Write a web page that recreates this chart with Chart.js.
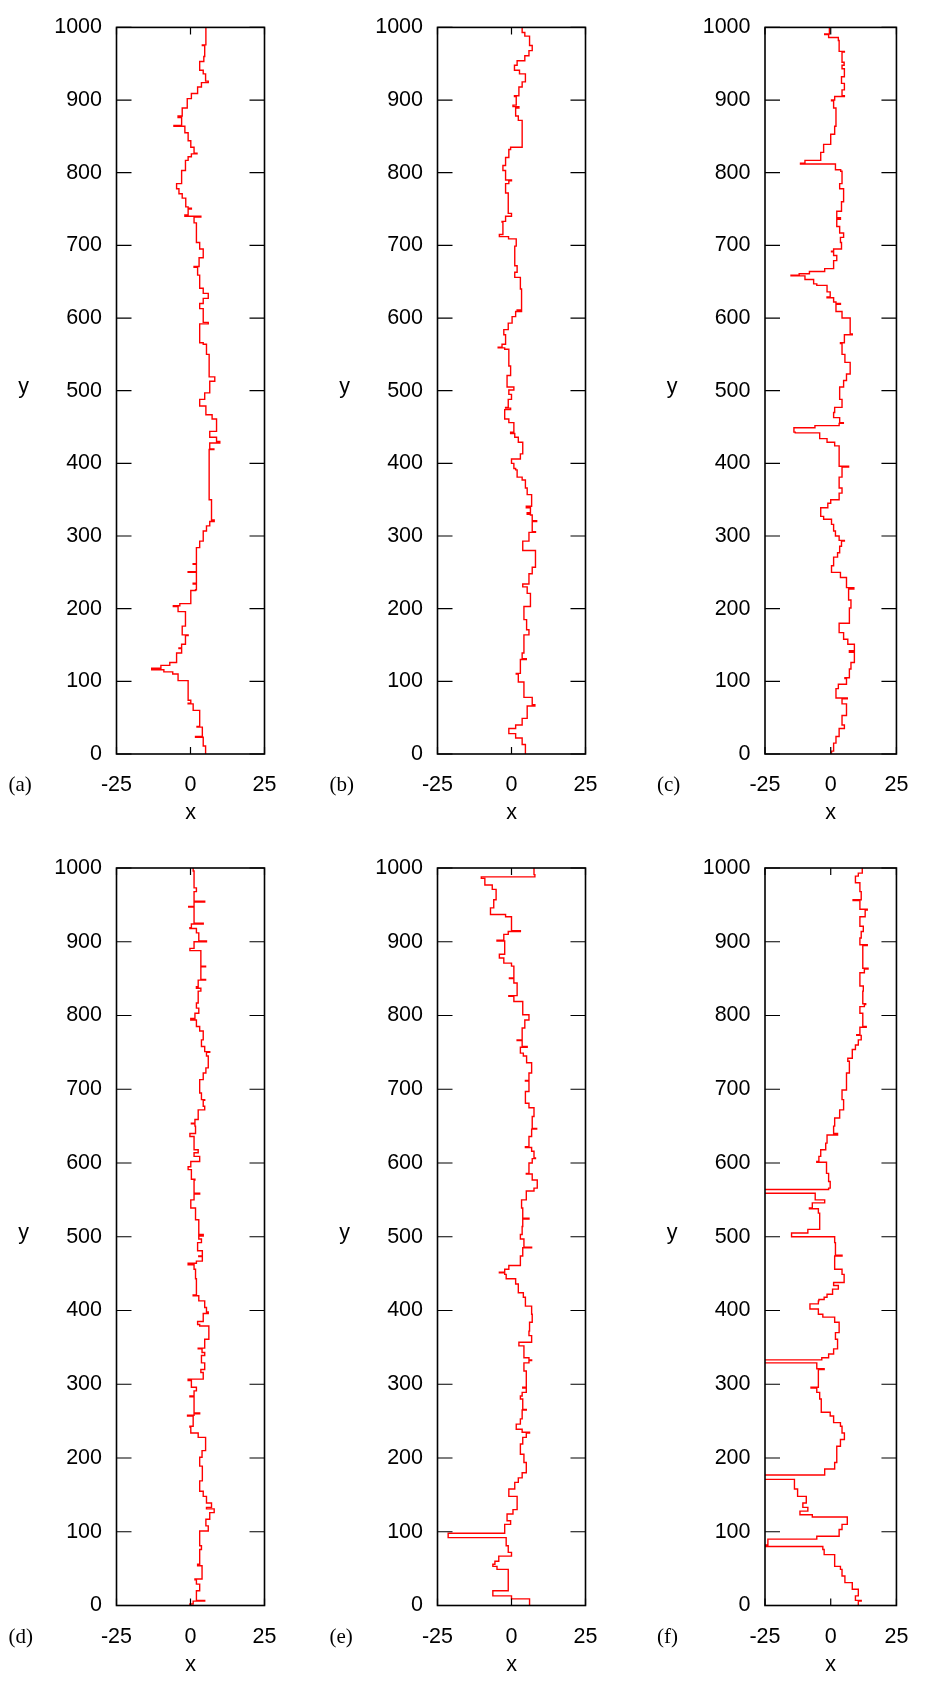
<!DOCTYPE html>
<html><head><meta charset="utf-8">
<script src="https://cdn.jsdelivr.net/npm/chart.js@4.4.0/dist/chart.umd.min.js"></script>
<style>
html,body{margin:0;padding:0;background:#fff;}
#wrap{position:relative;width:927px;height:1681px;overflow:hidden;background:#fff;}
canvas{position:absolute;}
</style></head><body><div id="wrap"></div>
<script>
// ---- data: [y, x] change points of each walk (x holds from this y down to the next y) ----
const panelA = [[1000,5.2],[976,4.0],[975,4.8],[960,4.5],[953,3.1],[941,4.3],[936,5.1],[926,6.0],[924,3.7],[918,2.4],[909,0.3],[902,-1.1],[889,-2.8],[878,-4.2],[876,-3.0],[865,-5.6],[864,-1.9],[855,-0.8],[844,0.1],[835,1.2],[827,2.2],[826,0.3],[822,-0.8],[817,-1.7],[803,-3.0],[785,-4.7],[778,-3.9],[771,-2.8],[765,-1.6],[753,-0.8],[751,0.3],[750,-0.8],[742,-1.9],[740,3.5],[739,1.2],[731,2.0],[704,3.1],[695,4.3],[683,2.9],[671,1.2],[670,2.4],[659,3.1],[641,4.3],[634,6.0],[627,4.3],[620,3.1],[613,4.3],[594,6.0],[592,3.1],[566,4.3],[564,5.4],[550,6.3],[519,8.2],[513,6.5],[497,4.8],[488,3.1],[479,5.2],[467,7.3],[461,8.8],[444,6.5],[436,8.8],[430,9.9],[428,6.5],[420,7.9],[419,6.3],[350,7.1],[322,8.0],[320,6.5],[314,5.4],[307,4.3],[293,3.1],[284,2.0],[262,0.9],[261,2.0],[251,-0.8],[250,2.0],[235,0.9],[234,2.0],[226,1.7],[225,0.1],[207,-3.6],[204,-5.8],[203,-4.2],[196,-1.7],[176,-2.8],[164,-0.8],[163,-1.7],[151,-3.0],[146,-3.9],[145,-3.0],[139,-4.7],[126,-7.0],[122,-10.0],[118,-13.1],[116,-9.0],[113,-6.0],[110,-4.2],[101,-0.8],[74,0.1],[70,-0.8],[69,0.9],[60,3.1],[38,2.2],[37,4.0],[24,1.7],[23,4.3],[11,5.1],[0,5.1]];
const panelB = [[1000,3.6],[993,4.5],[988,6.1],[975,7.0],[968,5.9],[961,4.5],[954,1.9],[948,1.0],[941,2.7],[936,4.7],[925,3.6],[918,2.5],[906,1.0],[905,1.6],[893,0.5],[891,2.5],[889,1.4],[878,2.3],[872,3.6],[835,-0.3],[832,-0.9],[821,-2.0],[810,-2.9],[803,-2.0],[790,0.0],[789,-0.9],[785,-2.0],[772,-1.1],[744,0.0],[740,-2.0],[733,-3.2],[732,-2.9],[715,-4.1],[712,-1.0],[709,1.6],[699,1.1],[672,1.9],[663,1.1],[656,3.0],[640,3.4],[611,1.9],[610,3.4],[609,1.4],[602,0.2],[593,-1.1],[584,-2.6],[577,-2.0],[564,-3.2],[560,-4.5],[559,-2.3],[557,-0.9],[534,-0.3],[521,-1.5],[505,0.8],[501,-0.9],[495,0.0],[488,-1.1],[477,-2.0],[476,-0.3],[474,-2.3],[461,-0.9],[456,0.8],[443,-0.3],[441,1.1],[436,2.3],[429,3.8],[413,3.0],[406,0.0],[400,0.8],[393,1.4],[391,1.9],[381,3.6],[377,4.7],[366,5.3],[357,6.8],[341,5.0],[339,6.4],[332,5.3],[330,6.4],[329,7.0],[321,8.5],[320,7.0],[306,8.1],[305,5.9],[293,3.8],[280,8.1],[257,7.0],[248,5.9],[234,3.8],[230,5.3],[221,6.4],[203,4.2],[185,5.1],[171,5.9],[164,4.2],[139,3.6],[131,5.0],[130,3.0],[111,1.6],[110,2.3],[99,4.2],[78,7.0],[68,7.9],[66,5.3],[49,3.6],[40,1.4],[35,-0.9],[28,1.4],[22,3.6],[13,4.7],[0,4.7]];
const panelC = [[1000,-0.5],[991,-2.3],[990,-0.8],[986,2.9],[982,3.2],[967,5.2],[966,4.3],[952,5.1],[948,4.3],[943,5.2],[932,4.1],[923,5.2],[914,4.3],[906,5.2],[905,1.5],[900,0.3],[899,1.1],[889,2.0],[864,1.5],[853,0.0],[839,-2.7],[828,-3.8],[817,-9.8],[813,-11.5],[812,1.8],[804,3.8],[802,4.3],[785,3.4],[778,4.9],[760,4.1],[747,2.3],[738,3.7],[736,2.3],[726,3.4],[717,4.9],[711,3.7],[704,4.1],[695,1.1],[692,0.3],[691,1.1],[686,2.3],[679,1.1],[668,-2.3],[664,-8.1],[661,-12.0],[659,-15.1],[658,-9.8],[653,-6.5],[647,-5.3],[645,-1.4],[636,-0.2],[629,-1.4],[628,1.1],[622,2.0],[620,3.7],[619,2.0],[609,4.3],[600,7.4],[578,8.2],[577,5.2],[566,3.7],[565,4.3],[550,5.4],[539,7.4],[523,6.0],[514,4.9],[505,3.4],[488,4.3],[477,1.5],[470,1.1],[463,3.4],[456,4.8],[455,3.2],[452,-6.0],[449,-14.0],[443,-13.5],[442,-4.2],[434,-1.4],[429,1.5],[424,3.2],[396,6.8],[395,4.3],[381,3.2],[366,4.3],[359,3.2],[350,0.0],[345,-1.1],[339,-3.8],[327,-2.7],[323,0.3],[316,1.1],[307,1.8],[300,3.2],[294,5.2],[293,4.1],[286,3.4],[277,2.6],[271,1.1],[259,0.3],[250,3.7],[243,6.0],[229,8.8],[227,6.8],[212,7.7],[201,7.1],[180,3.2],[167,4.9],[158,6.5],[151,9.0],[142,7.1],[140,9.0],[126,7.7],[117,7.1],[105,5.4],[104,6.0],[96,2.9],[90,2.0],[77,6.3],[76,4.3],[69,6.0],[53,4.3],[40,5.2],[35,3.2],[24,2.0],[15,1.1],[4,0.3],[0,0.3]];
const panelD = [[1000,0.9],[996,1.2],[973,2.0],[968,1.2],[955,4.8],[954,1.2],[948,-0.6],[947,1.2],[925,4.3],[924,0.3],[919,-0.2],[918,2.0],[912,2.8],[901,5.4],[900,1.2],[891,-0.2],[888,3.5],[867,5.1],[866,3.5],[849,5.1],[848,2.6],[839,2.0],[837,3.5],[833,2.6],[817,2.0],[810,2.8],[803,1.5],[796,0.1],[794,2.0],[785,3.1],[779,4.3],[767,3.7],[758,4.8],[751,6.5],[750,5.4],[745,6.0],[729,5.2],[722,4.3],[713,3.1],[695,3.7],[686,4.8],[685,4.3],[677,4.8],[672,2.6],[659,1.5],[654,0.3],[653,1.5],[650,1.7],[640,-0.2],[636,1.2],[618,2.6],[614,1.2],[609,3.1],[602,0.1],[595,-0.8],[591,0.3],[578,1.5],[577,1.2],[559,3.1],[558,1.2],[550,0.1],[539,1.7],[523,2.8],[503,4.3],[501,2.8],[497,3.7],[492,2.4],[481,4.0],[474,2.8],[473,4.0],[467,2.0],[464,-0.8],[462,1.2],[456,1.7],[443,2.0],[421,0.9],[420,2.8],[413,4.8],[404,5.4],[398,6.0],[396,4.3],[385,2.4],[381,3.1],[379,6.2],[361,4.8],[349,2.6],[348,3.9],[343,4.8],[339,3.7],[329,4.8],[320,3.5],[316,4.3],[307,-0.8],[305,0.3],[296,2.0],[291,1.2],[284,-0.2],[283,1.2],[261,3.1],[260,1.2],[258,-1.0],[257,0.9],[243,-0.2],[242,0.1],[234,2.6],[228,5.1],[210,3.9],[201,3.1],[189,4.0],[169,3.1],[155,4.3],[148,5.4],[139,7.1],[133,5.4],[131,8.0],[126,6.5],[117,5.2],[108,6.0],[101,3.1],[81,3.7],[76,3.1],[56,2.4],[54,3.9],[36,1.5],[35,2.0],[29,3.1],[20,2.0],[7,4.8],[6,0.9],[2,-0.2],[0,-0.2]];
const panelE = [[1000,7.6],[991,7.9],[988,-10.2],[986,-9.0],[977,-6.5],[971,-5.2],[957,-6.0],[946,-7.1],[937,-2.0],[934,0.0],[915,3.0],[914,-1.1],[910,-2.6],[902,-4.9],[901,-2.3],[883,-4.1],[878,-2.6],[871,0.0],[867,0.8],[851,-0.7],[850,0.8],[844,1.9],[827,-0.9],[826,0.8],[819,3.8],[801,5.9],[794,4.5],[783,3.6],[767,1.9],[766,3.6],[758,5.3],[757,3.0],[749,4.0],[745,5.1],[736,6.8],[722,5.9],[712,4.7],[711,5.9],[697,4.7],[681,5.9],[675,7.6],[663,7.0],[647,8.5],[646,6.8],[636,5.9],[622,4.7],[621,6.8],[616,7.6],[607,8.1],[606,7.0],[600,5.9],[586,5.0],[585,7.0],[577,8.7],[566,7.6],[562,5.0],[550,3.4],[539,3.8],[525,5.9],[524,3.8],[514,3.6],[503,3.0],[497,4.2],[486,6.8],[485,3.8],[474,3.0],[461,-0.9],[456,-2.3],[452,-4.1],[451,-2.3],[449,-1.8],[443,1.4],[436,2.3],[424,4.0],[418,4.7],[406,6.8],[395,7.0],[384,6.1],[372,5.9],[366,6.8],[357,2.5],[352,4.2],[336,5.9],[333,6.8],[332,5.9],[329,4.2],[318,5.0],[296,3.8],[295,5.0],[289,3.6],[284,3.0],[280,3.8],[266,5.0],[265,3.6],[253,3.0],[246,1.6],[239,3.6],[235,6.1],[234,5.0],[228,3.8],[219,3.0],[205,4.2],[194,5.0],[180,3.6],[173,2.3],[167,1.1],[158,-0.9],[148,1.9],[130,0.5],[124,-1.5],[115,-0.3],[110,-2.3],[98,-21.4],[92,-1.8],[81,-1.1],[72,0.0],[67,-4.3],[60,-5.6],[56,-6.3],[53,-4.9],[49,-1.1],[20,-6.3],[13,0.0],[9,6.1],[0,6.1]];
const panelF = [[1000,12.0],[993,10.5],[989,9.4],[980,11.1],[968,11.6],[957,8.5],[956,11.1],[944,13.9],[943,13.1],[934,11.1],[921,12.4],[914,11.6],[905,11.1],[896,13.9],[895,12.2],[864,14.2],[863,12.8],[858,11.1],[840,12.4],[833,12.2],[816,13.3],[815,12.8],[812,11.1],[803,12.2],[785,13.5],[784,11.1],[774,9.9],[773,11.6],[767,10.5],[760,9.4],[754,8.2],[742,6.5],[738,7.1],[722,6.0],[699,4.3],[686,4.9],[672,3.4],[661,1.5],[650,1.1],[640,2.6],[638,-1.4],[627,-1.9],[618,-3.8],[609,-4.5],[602,-5.3],[601,-1.6],[586,-0.8],[575,-0.2],[566,-0.8],[564,-27],[559,-5.9],[550,-2.3],[546,-7.0],[539,-8.1],[538,-4.7],[532,-4.2],[510,-8.7],[505,-14.9],[500,1.5],[492,1.8],[475,4.3],[474,1.5],[456,4.3],[449,5.1],[438,1.1],[434,2.9],[429,0.7],[422,-1.4],[418,-2.5],[415,-4.5],[413,-4.7],[409,-7.9],[402,-4.7],[395,-3.0],[391,1.5],[384,3.2],[370,1.8],[361,2.6],[348,1.1],[341,-0.8],[336,-3.4],[333,-27],[329,-5.3],[321,-2.5],[320,-4.7],[296,-7.5],[295,-5.3],[289,-4.2],[280,-3.6],[262,-0.2],[257,1.1],[248,3.7],[243,4.3],[234,5.2],[225,3.7],[216,2.3],[194,1.5],[185,-2.3],[177,-27],[171,-13.8],[158,-12.6],[148,-9.3],[139,-10.6],[133,-8.7],[128,-11.7],[123,-7.0],[120,6.3],[110,4.3],[103,3.2],[94,-5.3],[90,-23.9],[82,-27],[80,-3.0],[76,-2.5],[69,1.5],[53,3.7],[49,4.3],[40,5.4],[31,8.2],[22,10.5],[13,9.4],[7,11.6],[6,10.5],[0,10.5]];

const panelLabels = ['(a)','(b)','(c)','(d)','(e)','(f)'];
const xRange = [-25, 25];
const yRange = [0, 1000];
const xStep = 25;
const yStep = 100;

// ---- layout ----
const cols = [
  {left:0,   width:300, plotL:116.5, plotR:264.5},
  {left:300, width:320, plotL:437.5, plotR:585.5},
  {left:620, width:307, plotL:765,   plotR:912.5}
];
const rows = [
  {top:0,   height:840, plotT:16,  plotB:754,    titlePad:14},
  {top:840, height:841, plotT:868, plotB:1605.5, titlePad:3.5}
];
const traces = [panelA, panelB, panelC, panelD, panelE, panelF];
const FONT = '"Liberation Sans", Arial, Helvetica, sans-serif';
const SERIF = '"Liberation Serif", "Times New Roman", serif';

const decor = {
  id: 'decor',
  afterDraw(chart, args, opts) {
    const {ctx, chartArea: a} = chart;
    const xs = chart.scales.x, ys = chart.scales.y;
    ctx.save();
    ctx.strokeStyle = '#000';
    ctx.lineWidth = 1.2;
    ctx.beginPath();
    ys.ticks.forEach(t => {
      const p = ys.getPixelForValue(t.value);
      ctx.moveTo(a.left, p); ctx.lineTo(a.left + 15, p);
      ctx.moveTo(a.right - 15, p); ctx.lineTo(a.right, p);
    });
    xs.ticks.forEach(t => {
      const p = xs.getPixelForValue(t.value);
      ctx.moveTo(p, a.bottom); ctx.lineTo(p, a.bottom - 7);
      ctx.moveTo(p, a.top); ctx.lineTo(p, a.top + 7);
    });
    ctx.stroke();
    ctx.lineWidth = 1.6;
    ctx.strokeRect(a.left, a.top, a.right - a.left, a.bottom - a.top);
    ctx.fillStyle = '#000';
    ctx.font = '21.5px ' + FONT;
    ctx.textAlign = 'center';
    ctx.textBaseline = 'alphabetic';
    ctx.fillText('y', a.left - 93, (a.top + a.bottom) / 2 + 2);
    ctx.font = '21px ' + SERIF;
    ctx.textAlign = 'left';
    ctx.textBaseline = 'middle';
    ctx.fillText(opts.label, a.left - 108, a.bottom + 31.5);
    ctx.restore();
  }
};

const wrap = document.getElementById('wrap');
traces.forEach((tr, i) => {
  const c = cols[i % 3], r = rows[Math.floor(i / 3)];
  const cv = document.createElement('canvas');
  cv.width = c.width; cv.height = r.height;
  cv.style.left = c.left + 'px'; cv.style.top = r.top + 'px';
  cv.style.width = c.width + 'px'; cv.style.height = r.height + 'px';
  wrap.appendChild(cv);
  new Chart(cv, {
    type: 'scatter',
    data: { datasets: [{
      data: tr.map(p => ({x: p[1], y: p[0]})),
      showLine: true, stepped: 'after', borderColor: '#ff0000', borderWidth: 1.4,
      pointRadius: 0, pointHoverRadius: 0, fill: false, tension: 0
    }]},
    options: {
      responsive: false, animation: false, devicePixelRatio: 1, events: [],
      layout: { padding: { left: 0, top: r.plotT - r.top, right: c.left + c.width - c.plotR, bottom: 0 } },
      plugins: { legend: {display: false}, tooltip: {enabled: false}, decor: {label: panelLabels[i]} },
      scales: {
        x: {
          type: 'linear', min: xRange[0], max: xRange[1],
          afterFit: s => { s.height = r.top + r.height - r.plotB; },
          grid: {display: false, drawTicks: false}, border: {display: false},
          ticks: {stepSize: xStep, autoSkip: false, maxRotation: 0, padding: 18.6, color: '#000',
                  font: {family: FONT, size: 21.5}, callback: v => String(v)},
          title: {display: true, text: 'x', color: '#000', font: {family: FONT, size: 21.5},
                  padding: {top: r.titlePad, bottom: r.titlePad}}
        },
        y: {
          type: 'linear', min: yRange[0], max: yRange[1],
          afterFit: s => { s.width = c.plotL - c.left; },
          grid: {display: false, drawTicks: false}, border: {display: false},
          ticks: {stepSize: yStep, autoSkip: false, padding: 14.5, color: '#000',
                  font: {family: FONT, size: 21.5}, callback: v => String(v)}
        }
      }
    },
    plugins: [decor]
  });
});
</script>
</body></html>
